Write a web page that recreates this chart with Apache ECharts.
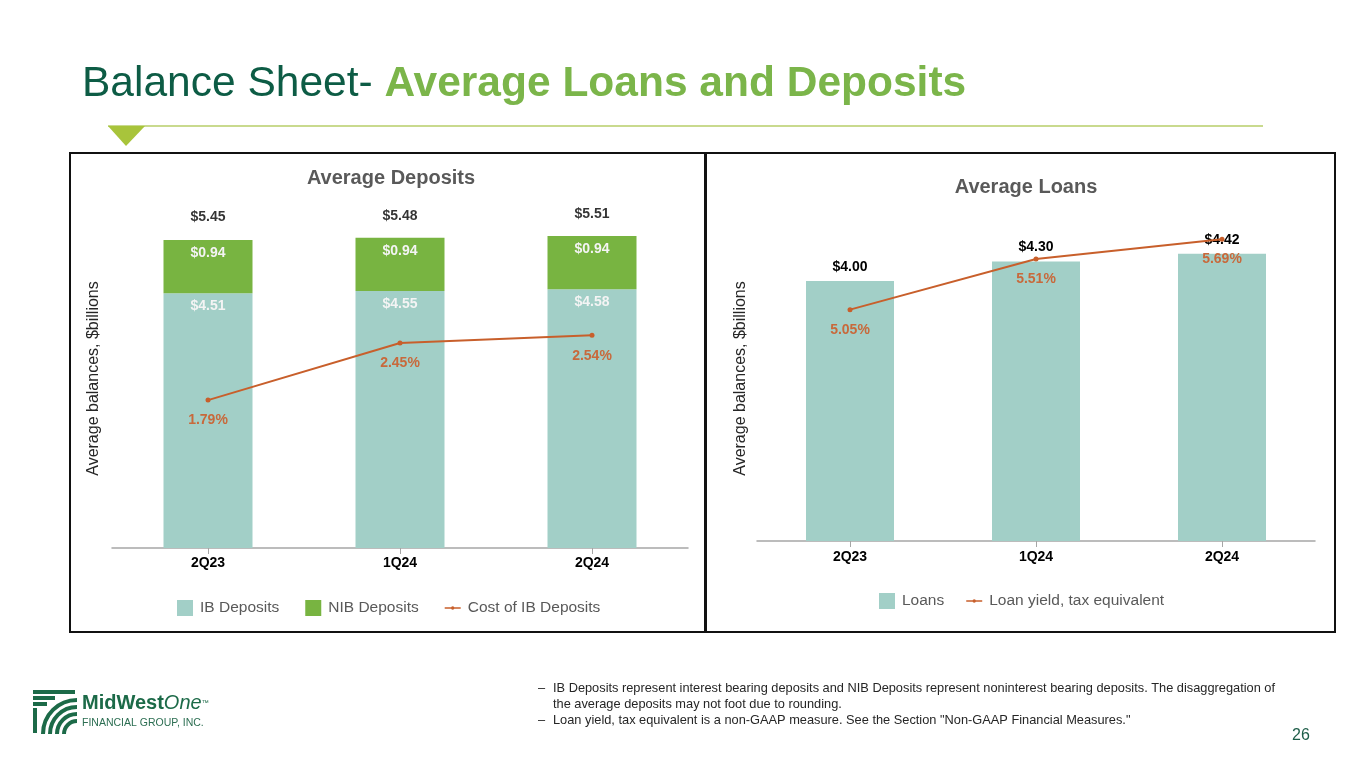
<!DOCTYPE html>
<html>
<head>
<meta charset="utf-8">
<script src="https://cdn.jsdelivr.net/npm/echarts@6/dist/echarts.min.js"></script>
<style>
html,body{margin:0;padding:0;background:#fff;}
#c{width:1365px;height:768px;}
</style>
</head>
<body>
<div id="c"></div>
<script>
const categories = ['2Q23', '1Q24', '2Q24'];
const ibDeposits = [4.51, 4.55, 4.58];
const nibDeposits = [0.94, 0.94, 0.94];
const totalDeposits = [5.45, 5.48, 5.51];
const costOfIBDeposits = [1.79, 2.45, 2.54];
const loans = [4.00, 4.30, 4.42];
const loanYield = [5.05, 5.51, 5.69];
const footnotes = [
  'IB Deposits represent interest bearing deposits and NIB Deposits represent noninterest bearing deposits. The disaggregation of',
  'the average deposits may not foot due to rounding.',
  'Loan yield, tax equivalent is a non-GAAP measure. See the Section "Non-GAAP Financial Measures."'
];

const FONT = '"Liberation Sans", Arial, sans-serif';
const TEAL = '#a2cfc7';
const GREEN = '#78b441';
const ORANGE = '#c85f2b';
const ORANGE_TXT = '#c8693b';
const GREY = '#595959';
const DKGREEN = '#0d5c45';
const LINE_ICON = 'path://M0,9H24V11H0Z M12,7.4A2.6,2.6 0 1 1 11.99,7.4Z';

const chart = echarts.init(document.getElementById('c'));

function money(p) { return '$' + Number(p.value).toFixed(2); }
function pct(p) { return Number(p.value).toFixed(2) + '%'; }

const axisX = (gi, margin) => ({
  type: 'category', gridIndex: gi, data: categories,
  axisLine: { show: true, lineStyle: { color: '#a6a6a6', width: 1.5 } },
  axisTick: { show: true, alignWithLabel: true, length: 6, lineStyle: { color: '#a6a6a6' } },
  axisLabel: { color: '#000', fontWeight: 'bold', fontSize: 14, fontFamily: FONT, margin: margin },
  splitLine: { show: false }
});
const hiddenY = (gi, min, max, name, gap) => ({
  type: 'value', gridIndex: gi, min: min, max: max,
  axisLine: { show: false }, axisTick: { show: false }, axisLabel: { show: false }, splitLine: { show: false },
  name: name || '', nameLocation: 'middle', nameRotate: 90, nameGap: gap || 0,
  nameTextStyle: { color: '#262626', fontSize: 16, fontFamily: FONT }
});

const option = {
  animation: false,
  backgroundColor: '#fff',
  title: [
    {
      text: '{a|Balance Sheet- }{b|Average Loans and Deposits}',
      left: 77, top: 58,
      textStyle: {
        rich: {
          a: { color: DKGREEN, fontSize: 42.5, fontFamily: FONT, fontWeight: 'normal' },
          b: { color: '#7bb54a', fontSize: 42.5, fontFamily: FONT, fontWeight: 'bold' }
        }
      }
    },
    { text: 'Average Deposits', left: 386, top: 163, textAlign: 'center',
      textStyle: { color: GREY, fontSize: 20, fontWeight: 'bold', fontFamily: FONT } },
    { text: 'Average Loans', left: 1021, top: 172, textAlign: 'center',
      textStyle: { color: GREY, fontSize: 20, fontWeight: 'bold', fontFamily: FONT } }
  ],
  legend: [
    {
      left: 172, top: 595, itemWidth: 16, itemHeight: 16, itemGap: 26,
      textStyle: { color: GREY, fontSize: 15.5, fontFamily: FONT, padding: [0, 0, 0, 2] },
      data: [{ name: 'IB Deposits', icon: 'rect' }, { name: 'NIB Deposits', icon: 'rect' }, { name: 'Cost of IB Deposits', icon: LINE_ICON }]
    },
    {
      left: 874, top: 588, itemWidth: 16, itemHeight: 16, itemGap: 22,
      textStyle: { color: GREY, fontSize: 15.5, fontFamily: FONT, padding: [0, 0, 0, 2] },
      data: [{ name: 'Loans', icon: 'rect' }, { name: 'Loan yield, tax equivalent', icon: LINE_ICON }]
    }
  ],
  grid: [
    { left: 112, top: 209, width: 576, height: 339 },
    { left: 757, top: 216, width: 558, height: 325 }
  ],
  xAxis: [axisX(0, 8), axisX(1, 9)],
  yAxis: [
    hiddenY(0, 0, 6, 'Average balances, $billions', 10),
    hiddenY(0, 0.08, 4.0),
    hiddenY(1, 0, 5, 'Average balances, $billions', 8),
    hiddenY(1, 2.95, 5.9)
  ],
  series: [
    {
      name: 'IB Deposits', type: 'bar', stack: 'dep', xAxisIndex: 0, yAxisIndex: 0,
      data: ibDeposits, barWidth: 89, itemStyle: { color: TEAL },
      label: { show: true, position: 'insideTop', distance: 6, formatter: money,
        color: '#f4f4f4', fontWeight: 'bold', fontSize: 14, fontFamily: FONT }
    },
    {
      name: 'NIB Deposits', type: 'bar', stack: 'dep', xAxisIndex: 0, yAxisIndex: 0,
      data: nibDeposits, barWidth: 89, itemStyle: { color: GREEN },
      label: { show: true, position: 'insideTop', distance: 6, formatter: money,
        color: '#f4f4f4', fontWeight: 'bold', fontSize: 14, fontFamily: FONT }
    },
    {
      name: 'Total Deposits', type: 'scatter', xAxisIndex: 0, yAxisIndex: 0,
      data: totalDeposits, symbolSize: 1, itemStyle: { color: 'rgba(0,0,0,0)' }, silent: true,
      label: { show: true, position: 'top', distance: 15, formatter: money,
        color: '#000', fontWeight: 'bold', fontSize: 14, fontFamily: FONT }
    },
    {
      name: 'Cost of IB Deposits', type: 'line', xAxisIndex: 0, yAxisIndex: 1,
      data: costOfIBDeposits, symbol: 'circle', symbolSize: 5,
      lineStyle: { color: ORANGE, width: 2 }, itemStyle: { color: ORANGE },
      label: { show: true, position: 'bottom', distance: 11, formatter: pct,
        color: ORANGE_TXT, fontWeight: 'bold', fontSize: 14, fontFamily: FONT }
    },
    {
      name: 'Loans', type: 'bar', xAxisIndex: 1, yAxisIndex: 2,
      data: loans, barWidth: 88, itemStyle: { color: TEAL },
      label: { show: true, position: 'top', distance: 7, formatter: money,
        color: '#000', fontWeight: 'bold', fontSize: 14, fontFamily: FONT }
    },
    {
      name: 'Loan yield, tax equivalent', type: 'line', xAxisIndex: 1, yAxisIndex: 3,
      data: loanYield, symbol: 'circle', symbolSize: 5,
      lineStyle: { color: ORANGE, width: 2 }, itemStyle: { color: ORANGE },
      label: { show: true, position: 'bottom', distance: 11, formatter: pct,
        color: ORANGE_TXT, fontWeight: 'bold', fontSize: 14, fontFamily: FONT }
    }
  ],
  graphic: [
    { type: 'line', shape: { x1: 108, y1: 126, x2: 1263, y2: 126 }, style: { stroke: '#c9da8e', lineWidth: 2 } },
    { type: 'polygon', shape: { points: [[108, 126], [145, 126], [126, 146]] }, style: { fill: '#a8c43b' } },
    { type: 'rect', shape: { x: 70, y: 153, width: 635, height: 479 }, style: { fill: 'none', stroke: '#111', lineWidth: 2 } },
    { type: 'rect', shape: { x: 706, y: 153, width: 629, height: 479 }, style: { fill: 'none', stroke: '#111', lineWidth: 2 } },
    { type: 'text', x: 538, y: 688, style: { text: '–', fill: '#262626', font: '12.8px ' + FONT, textVerticalAlign: 'middle' } },
    { type: 'text', x: 553, y: 688, style: { text: footnotes[0], fill: '#262626', font: '12.8px ' + FONT, textVerticalAlign: 'middle' } },
    { type: 'text', x: 553, y: 704, style: { text: footnotes[1], fill: '#262626', font: '12.8px ' + FONT, textVerticalAlign: 'middle' } },
    { type: 'text', x: 538, y: 720, style: { text: '–', fill: '#262626', font: '12.8px ' + FONT, textVerticalAlign: 'middle' } },
    { type: 'text', x: 553, y: 720, style: { text: footnotes[2], fill: '#262626', font: '12.8px ' + FONT, textVerticalAlign: 'middle' } },
    { type: 'text', x: 1301, y: 736, style: { text: '26', fill: '#1e5d49', font: '16px ' + FONT, textAlign: 'center', textVerticalAlign: 'middle' } },
    {
      type: 'group', x: 33, y: 690,
      children: [
        { type: 'rect', shape: { x: 0, y: 0, width: 42, height: 4 }, style: { fill: '#1c6a48' } },
        { type: 'rect', shape: { x: 0, y: 6, width: 22, height: 4 }, style: { fill: '#1c6a48' } },
        { type: 'rect', shape: { x: 0, y: 12, width: 14, height: 4 }, style: { fill: '#1c6a48' } },
        { type: 'arc', shape: { cx: 44, cy: 44, r: 34, startAngle: Math.PI, endAngle: Math.PI * 1.5 }, style: { stroke: '#1c6a48', lineWidth: 4, fill: 'none' } },
        { type: 'arc', shape: { cx: 44, cy: 44, r: 27, startAngle: Math.PI, endAngle: Math.PI * 1.5 }, style: { stroke: '#1c6a48', lineWidth: 4, fill: 'none' } },
        { type: 'arc', shape: { cx: 44, cy: 44, r: 20, startAngle: Math.PI, endAngle: Math.PI * 1.5 }, style: { stroke: '#1c6a48', lineWidth: 4, fill: 'none' } },
        { type: 'arc', shape: { cx: 44, cy: 44, r: 13, startAngle: Math.PI, endAngle: Math.PI * 1.5 }, style: { stroke: '#1c6a48', lineWidth: 4, fill: 'none' } },
        { type: 'rect', shape: { x: 0, y: 18, width: 4, height: 25 }, style: { fill: '#1c6a48' } }
      ]
    },
    {
      type: 'text', x: 82, y: 703,
      style: {
        text: '{a|MidWest}{b|One}{c|™}',
        textVerticalAlign: 'middle',
        rich: {
          a: { fill: '#1c6a48', font: 'bold 20px ' + FONT },
          b: { fill: '#1c6a48', font: 'italic 20px ' + FONT },
          c: { fill: '#1c6a48', font: '7px ' + FONT }
        }
      }
    },
    { type: 'text', x: 82, y: 723, style: { text: 'FINANCIAL GROUP, INC.', fill: '#2c6e52', font: '10.5px ' + FONT, textVerticalAlign: 'middle' } }
  ]
};
chart.setOption(option);
</script>
</body>
</html>
